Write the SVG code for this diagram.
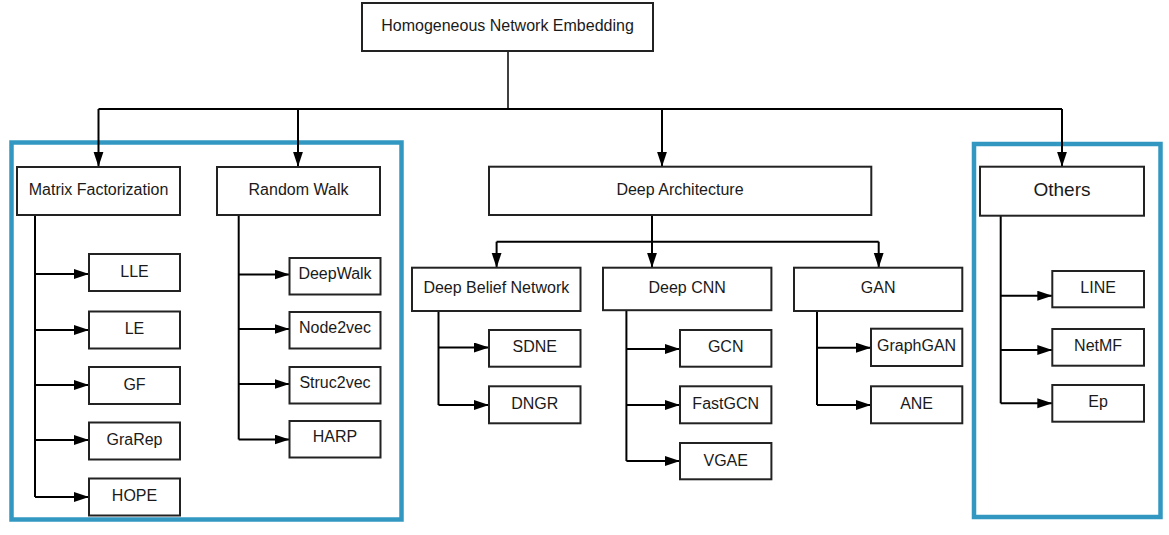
<svg xmlns="http://www.w3.org/2000/svg" width="1169" height="535" viewBox="0 0 1169 535">
<defs>
<marker id="ah" markerUnits="userSpaceOnUse" markerWidth="16" markerHeight="11" refX="15" refY="5" orient="auto">
<path d="M0,0 L15,5 L0,10 z" fill="#000"/>
</marker>
<style>
.n rect{fill:#fff;stroke:#222;stroke-width:2}
.n text{font-family:"Liberation Sans",Arial,sans-serif;font-size:16px;fill:#1a1a1a;text-anchor:middle}
.grp{fill:none;stroke:#3398c1;stroke-width:4.5}
.c path{fill:none;stroke:#000;stroke-width:2}
.c .a{marker-end:url(#ah)}
</style>
</defs>
<rect width="1169" height="535" fill="#fff"/>
<g id="groups">
<rect class="grp" x="11.5" y="142.5" width="390" height="377"/>
<rect class="grp" x="974" y="144" width="186.5" height="373"/>
</g>
<g id="connectors" class="c">
<path d="M508,51 V109" style="stroke-width:1.5"/>
<path d="M98.5,109 H1062"/>
<path class="a" d="M98.5,109 V166.7"/>
<path class="a" d="M298,109 V166.7"/>
<path class="a" d="M662,109 V166.7"/>
<path class="a" d="M1062,109 V166.7"/>
<path d="M35,215 V497"/>
<path class="a" d="M35,274 H89"/>
<path class="a" d="M35,330 H89"/>
<path class="a" d="M35,385 H89"/>
<path class="a" d="M35,440 H89"/>
<path class="a" d="M35,497 H89"/>
<path d="M238.7,215 V439.5"/>
<path class="a" d="M238.7,274.5 H289.5"/>
<path class="a" d="M238.7,329 H289.5"/>
<path class="a" d="M238.7,384 H289.5"/>
<path class="a" d="M238.7,439.5 H289.5"/>
<path class="a" d="M652,215 V267.7"/>
<path d="M496.6,241.7 H878.7"/>
<path class="a" d="M496.6,241.7 V267.7"/>
<path class="a" d="M878.7,241.7 V267.7"/>
<path d="M438.5,311 V405"/>
<path class="a" d="M438.5,347.5 H489"/>
<path class="a" d="M438.5,405 H489"/>
<path d="M626.4,310 V461"/>
<path class="a" d="M626.4,349 H680"/>
<path class="a" d="M626.4,405 H680"/>
<path class="a" d="M626.4,461 H680"/>
<path d="M817,311 V405"/>
<path class="a" d="M817,347.7 H871"/>
<path class="a" d="M817,405 H871"/>
<path d="M1000.7,215.7 V403.3"/>
<path class="a" d="M1000.7,295.7 H1052.3"/>
<path class="a" d="M1000.7,350 H1052.3"/>
<path class="a" d="M1000.7,403.3 H1052.3"/>
</g>
<g id="root" class="n"><rect x="362" y="3" width="291" height="48"/><text x="507.5" y="30.5">Homogeneous Network Embedding</text></g>
<g id="mf" class="n"><rect x="17" y="167" width="163" height="48"/><text x="98.5" y="195">Matrix Factorization</text></g>
<g id="rw" class="n"><rect x="217" y="167" width="163" height="48"/><text x="298.5" y="195">Random Walk</text></g>
<g id="deep" class="n"><rect x="489" y="166.7" width="382.3" height="48.3"/><text x="680" y="194.5">Deep Architecture</text></g>
<g id="others" class="n"><rect x="980" y="166.7" width="164" height="49"/><text x="1062" y="195.7" style="font-size:19px">Others</text></g>
<g id="lle" class="n"><rect x="89" y="254" width="91" height="37"/><text x="134.5" y="276.5">LLE</text></g>
<g id="le" class="n"><rect x="89" y="311.5" width="91" height="37"/><text x="134.5" y="334">LE</text></g>
<g id="gf" class="n"><rect x="89" y="367" width="91" height="37"/><text x="134.5" y="389.5">GF</text></g>
<g id="grarep" class="n"><rect x="89" y="422.5" width="91" height="37"/><text x="134.5" y="445">GraRep</text></g>
<g id="hope" class="n"><rect x="89" y="478.5" width="91" height="37"/><text x="134.5" y="501">HOPE</text></g>
<g id="deepwalk" class="n"><rect x="289.5" y="258" width="91" height="36.5"/><text x="335" y="278.5">DeepWalk</text></g>
<g id="node2vec" class="n"><rect x="289.5" y="312" width="91" height="36.5"/><text x="335" y="333">Node2vec</text></g>
<g id="struc2vec" class="n"><rect x="289.5" y="367" width="91" height="36.5"/><text x="335" y="388">Struc2vec</text></g>
<g id="harp" class="n"><rect x="289.5" y="421" width="91" height="36.5"/><text x="335" y="442">HARP</text></g>
<g id="dbn" class="n"><rect x="412" y="267.7" width="168.5" height="43.3"/><text x="496.3" y="293.3">Deep Belief Network</text></g>
<g id="dcnn" class="n"><rect x="603" y="267.7" width="168.4" height="42.5"/><text x="687.2" y="293">Deep CNN</text></g>
<g id="gan" class="n"><rect x="794" y="267.7" width="168.3" height="43.3"/><text x="878.2" y="293.3">GAN</text></g>
<g id="sdne" class="n"><rect x="489" y="330" width="91.5" height="36.7"/><text x="534.7" y="352.3">SDNE</text></g>
<g id="dngr" class="n"><rect x="489" y="386.3" width="91.5" height="37"/><text x="534.7" y="409">DNGR</text></g>
<g id="gcn" class="n"><rect x="680" y="330" width="91.4" height="36.7"/><text x="725.7" y="352.3">GCN</text></g>
<g id="fastgcn" class="n"><rect x="680" y="386.3" width="91.4" height="37"/><text x="725.7" y="409">FastGCN</text></g>
<g id="vgae" class="n"><rect x="680" y="443" width="91.4" height="36.3"/><text x="725.7" y="465.5">VGAE</text></g>
<g id="graphgan" class="n"><rect x="871" y="328.7" width="91.3" height="37.3"/><text x="916.6" y="351.3">GraphGAN</text></g>
<g id="ane" class="n"><rect x="871" y="386.3" width="91.3" height="37"/><text x="916.6" y="409">ANE</text></g>
<g id="line" class="n"><rect x="1052.3" y="271" width="91.7" height="36.3"/><text x="1098.1" y="293.3">LINE</text></g>
<g id="netmf" class="n"><rect x="1052.3" y="329" width="91.7" height="36.7"/><text x="1098.1" y="351.3">NetMF</text></g>
<g id="ep" class="n"><rect x="1052.3" y="385" width="91.7" height="36.7"/><text x="1098.1" y="407.3">Ep</text></g>
</svg>
